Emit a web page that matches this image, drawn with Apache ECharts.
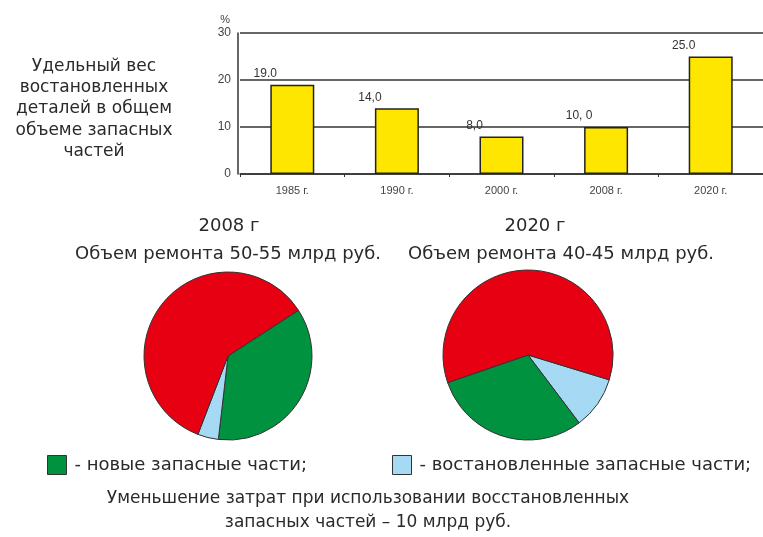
<!DOCTYPE html>
<html>
<head>
<meta charset="utf-8">
<script src="https://cdn.jsdelivr.net/npm/echarts@6/dist/echarts.min.js"></script>
<style>
  html, body { margin: 0; padding: 0; background: #fff; }
  #chart { width: 763px; height: 537px; }
</style>
</head>
<body>
<div id="chart"></div>
<script>
// Share of restored parts in total spare-parts volume, by year
const years = ['1985 г.', '1990 г.', '2000 г.', '2008 г.', '2020 г.'];
const sharePct = [19, 14, 8, 10, 25];
const shareLabels = ['19.0', '14,0', '8,0', '10, 0', '25.0'];
const yTicks = [0, 10, 20, 30];

// Repair cost structure (percent of total)
const partNames = ['новые запасные части', 'востановленные запасные части', 'прочие затраты'];
const pie2008 = [36, 4, 60];   // new, restored, other
const pie2020 = [30, 10, 60];  // new, restored, other
const partColors = ['#00923F', '#A6DAF4', '#E60012'];

const AXIS_FONT = '"Liberation Sans", Arial, sans-serif';
const TEXT_FONT = '"DejaVu Sans", Verdana, sans-serif';
const TXT = '#2a2a2a';

const chart = echarts.init(document.getElementById('chart'), null, { renderer: 'canvas' });

function pieData(values, order) {
  return order.map(i => ({ name: partNames[i], value: values[i], itemStyle: { color: partColors[i] } }));
}

function text(x, y, str, size, lh) {
  return {
    type: 'text', x: x, y: y,
    style: {
      text: str, font: size + 'px ' + TEXT_FONT, fill: TXT,
      textAlign: 'center', textVerticalAlign: 'middle', lineHeight: lh || size + 3
    }
  };
}

function legendFor(name, left) {
  return {
    left: left, top: 455, padding: 0, itemWidth: 19, itemHeight: 19, icon: 'rect',
    data: [name],
    formatter: '- {name};',
    textStyle: { color: TXT, fontSize: 18, fontFamily: TEXT_FONT, padding: [0, 0, 0, 3] },
    itemStyle: { borderColor: '#333', borderWidth: 1 },
    selectedMode: false
  };
}

chart.setOption({
  animation: false,
  backgroundColor: '#fff',
  grid: { left: 240, top: 33, width: 525, height: 141 },
  xAxis: {
    type: 'category',
    data: years,
    axisLine: { lineStyle: { color: '#333', width: 1.5 } },
    axisTick: { show: true, length: 3, lineStyle: { color: '#333' } },
    axisLabel: { color: '#444', fontSize: 11, fontFamily: AXIS_FONT, margin: 11 }
  },
  yAxis: {
    type: 'value',
    offset: 2,
    min: yTicks[0], max: yTicks[yTicks.length - 1], interval: 10,
    name: '%',
    nameLocation: 'end',
    nameGap: 8,
    nameTextStyle: { color: '#444', fontSize: 11, fontFamily: AXIS_FONT, align: 'right', padding: [0, 8, 0, 0] },
    axisLine: { show: true, lineStyle: { color: '#333', width: 1.5 } },
    axisTick: { show: false },
    axisLabel: { color: '#444', fontSize: 12, fontFamily: AXIS_FONT, margin: 7 },
    splitLine: { lineStyle: { color: '#333', width: 1.5 } }
  },
  legend: [legendFor(partNames[0], 47), legendFor(partNames[1], 392)],
  graphic: [
    text(94, 109, 'Удельный вес\nвостановленных\nдеталей в общем\nобъеме запасных\nчастей', 17, 21.2),
    text(229, 226, '2008 г', 18),
    text(228, 254, 'Объем ремонта 50-55 млрд руб.', 18),
    text(535, 226, '2020 г', 18),
    text(561, 254, 'Объем ремонта 40-45 млрд руб.', 18),
    text(368, 511, 'Уменьшение затрат при использовании восстановленных\nзапасных частей – 10 млрд руб.', 17, 24)
  ],
  series: [
    {
      type: 'bar',
      data: sharePct,
      barWidth: 44,
      itemStyle: { color: '#FFE600', borderColor: '#222', borderWidth: 1.5 },
      label: {
        show: true,
        position: 'top',
        distance: 5,
        offset: [-27, 0],
        color: '#333',
        fontSize: 12,
        fontFamily: AXIS_FONT,
        formatter: p => shareLabels[p.dataIndex]
      },
      silent: true
    },
    {
      type: 'pie',
      center: [228, 356],
      radius: 84,
      startAngle: 33,
      clockwise: true,
      label: { show: false },
      labelLine: { show: false },
      itemStyle: { borderColor: '#333', borderWidth: 1 },
      silent: true,
      data: pieData(pie2008, [0, 1, 2])
    },
    {
      type: 'pie',
      center: [528, 355],
      radius: 85,
      startAngle: -17,
      clockwise: true,
      label: { show: false },
      labelLine: { show: false },
      itemStyle: { borderColor: '#333', borderWidth: 1 },
      silent: true,
      data: pieData(pie2020, [1, 0, 2])
    }
  ]
});
</script>
</body>
</html>
